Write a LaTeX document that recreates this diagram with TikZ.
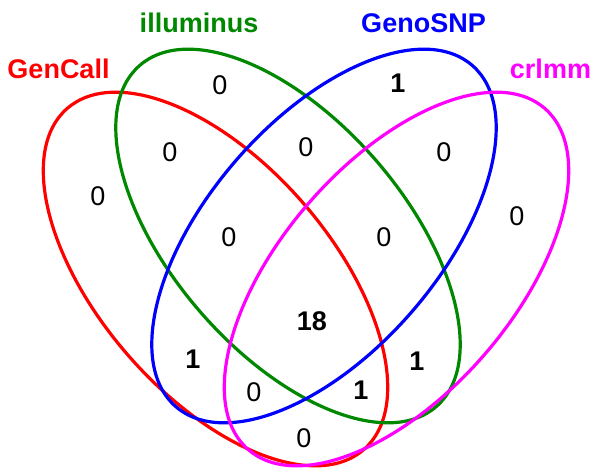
\documentclass[tikz,border=0pt]{standalone}
\usepackage{fontspec}
\setmainfont{Liberation Sans}
\definecolor{vred}{RGB}{255,0,0}
\definecolor{vgreen}{RGB}{0,136,0}
\definecolor{vblue}{RGB}{0,0,255}
\definecolor{vmag}{RGB}{255,0,255}
\tikzset{
  setline/.style={line width=3.2pt},
  setlabel/.style={font=\fontsize{27}{32}\selectfont\bfseries, anchor=base, inner sep=0pt},
  cnt/.style={font=\fontsize{27}{32}\selectfont, anchor=center, inner sep=0pt},
  cntb/.style={font=\fontsize{27}{32}\selectfont\bfseries, anchor=center, inner sep=0pt}
}
\begin{document}
\begin{tikzpicture}[x=1pt,y=1pt]
\useasboundingbox (0,0) rectangle (600,474);
% ellipses
\draw[setline, vred, rotate around={-49:(215.5,195)}] (215.5,195) ellipse [x radius=226pt, y radius=116pt];
\draw[setline, vgreen, rotate around={-49:(288,238)}] (288,238) ellipse [x radius=226pt, y radius=116pt];
\draw[setline, vblue, rotate around={49:(324,238)}] (324,238) ellipse [x radius=226pt, y radius=116pt];
\draw[setline, vmag, rotate around={49:(396.5,195)}] (396.5,195) ellipse [x radius=226pt, y radius=116pt];
% labels
\node[setlabel, text=vred] (lgen) at (58.5,395) {GenCall};
\node[setlabel, text=vgreen] (lill) at (199,441) {illuminus};
\node[setlabel, text=vblue] (lgsnp) at (423.5,441) {GenoSNP};
\node[setlabel, text=vmag] (lcrl) at (550.5,395) {crlmm};
% counts
\node[cnt] (n1) at (220,389) {0};
\node[cntb] (n2) at (398,391) {1};
\node[cnt] (n3) at (170,322) {0};
\node[cnt] (n4) at (306,327) {0};
\node[cnt] (n5) at (444,322) {0};
\node[cnt] (n6) at (98,278) {0};
\node[cnt] (n7) at (517,258) {0};
\node[cnt] (n8) at (229,237) {0};
\node[cnt] (n9) at (384,237) {0};
\node[cntb] (n10) at (312,153) {18};
\node[cntb] (n11) at (193,115) {1};
\node[cnt] (n12) at (254,82) {0};
\node[cntb] (n13) at (361,84) {1};
\node[cntb] (n14) at (417,113) {1};
\node[cnt] (n15) at (304,36) {0};
\end{tikzpicture}
\end{document}
